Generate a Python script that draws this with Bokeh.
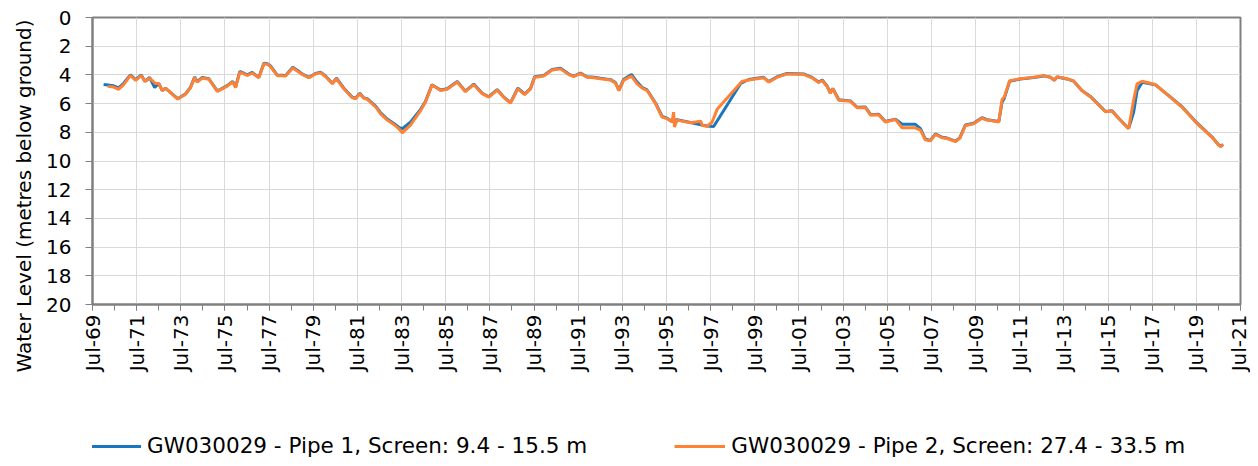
import math
import pandas as pd
from bokeh.plotting import figure
from bokeh.layouts import column
from bokeh.models import (Range1d, FixedTicker, DatetimeTickFormatter, Legend,
                          LegendItem, Title, ColumnDataSource)
from bokeh.embed import file_html
from bokeh.resources import INLINE

# ---------------- data ----------------
pipe2_dates = [
    "1970-03-10", "1970-06-15", "1970-09-05", "1970-11-25", "1971-03-20", "1971-06-15",
    "1971-09-15", "1971-11-15", "1972-02-01", "1972-05-08", "1972-07-01", "1972-08-28",
    "1972-10-20", "1973-05-10", "1973-09-16", "1973-12-10", "1974-02-14", "1974-03-28",
    "1974-06-20", "1974-10-08", "1975-02-25", "1975-08-07", "1975-11-06", "1975-12-24",
    "1976-03-03", "1976-07-05", "1976-09-24", "1977-01-12", "1977-04-06", "1977-06-01",
    "1977-07-24", "1977-11-10", "1978-03-30", "1978-07-27", "1978-11-02", "1978-12-28",
    "1979-04-20", "1979-08-08", "1979-10-30", "1980-01-20", "1980-05-12", "1980-07-20",
    "1980-11-18", "1981-04-05", "1981-05-30", "1981-08-10", "1981-10-15", "1981-12-10",
    "1982-04-28", "1982-07-16", "1982-11-06", "1983-02-24", "1983-05-15", "1983-07-12",
    "1983-11-25", "1984-05-08", "1984-07-30", "1984-11-16", "1985-04-05", "1985-07-24",
    "1986-01-08", "1986-05-22", "1986-10-08", "1987-02-24", "1987-06-14", "1987-10-30",
    "1988-02-18", "1988-06-06", "1988-10-05", "1989-01-26", "1989-05-05", "1989-07-12",
    "1989-12-08", "1990-04-26", "1990-09-12", "1991-01-26", "1991-04-20", "1991-08-08",
    "1991-11-24", "1992-03-14", "1992-07-05", "1992-12-16", "1993-03-10", "1993-05-05",
    "1993-07-24", "1993-11-28", "1994-03-03", "1994-05-26", "1994-08-15", "1995-01-01",
    "1995-04-20", "1995-07-12", "1995-10-01", "1995-10-27", "1995-11-10", "1995-12-24",
    "1996-07-30", "1997-01-20", "1997-02-10", "1997-05-05", "1997-07-24", "1997-10-16",
    "1998-12-01", "1999-03-22", "1999-11-24", "2000-02-18", "2000-07-05", "2000-12-16",
    "2001-09-16", "2002-02-03", "2002-05-22", "2002-07-20", "2002-10-08", "2002-12-02",
    "2003-01-12", "2003-04-20", "2003-10-30", "2004-02-18", "2004-07-05", "2004-09-28",
    "2005-02-10", "2005-05-30", "2005-11-14", "2006-03-03", "2006-10-08", "2007-01-01",
    "2007-03-22", "2007-06-14", "2007-09-05", "2007-12-24", "2008-03-18", "2008-08-04",
    "2008-10-12", "2009-01-15", "2009-05-30", "2009-10-15", "2010-01-08", "2010-04-26",
    "2010-07-20", "2010-09-12", "2010-10-20", "2011-01-15", "2011-07-12", "2012-02-18",
    "2012-07-30", "2012-11-20", "2013-01-26", "2013-03-10", "2013-08-22", "2013-12-08",
    "2014-04-26", "2014-09-12", "2015-05-20", "2015-09-05", "2015-12-24", "2016-06-06",
    "2016-08-28", "2016-10-24", "2017-01-15", "2017-08-20", "2018-04-26", "2018-11-06",
    "2019-07-20", "2020-03-18", "2020-07-05", "2020-08-08", "2020-09-16",
]
pipe2_level = [
    4.80, 4.85, 5.00, 4.70, 4.04, 4.39,
    4.04, 4.46, 4.23, 4.60, 4.60, 5.10,
    4.92, 5.68, 5.35, 4.88, 4.18, 4.50,
    4.22, 4.30, 5.15, 4.78, 4.50, 4.88,
    3.81, 4.04, 3.87, 4.20, 3.23, 3.25,
    3.42, 4.04, 4.08, 3.52, 3.80, 3.97,
    4.20, 3.93, 3.85, 4.11, 4.62, 4.27,
    4.97, 5.58, 5.66, 5.32, 5.63, 5.70,
    6.22, 6.70, 7.15, 7.45, 7.74, 8.04,
    7.50, 6.50, 5.90, 4.71, 5.08, 5.00,
    4.50, 5.17, 4.68, 5.31, 5.55, 5.06,
    5.58, 5.96, 4.97, 5.37, 4.97, 4.16,
    4.08, 3.66, 3.58, 3.98, 4.11, 3.91,
    4.16, 4.20, 4.27, 4.36, 4.57, 5.09,
    4.36, 4.08, 4.62, 4.93, 5.09, 6.00,
    6.94, 7.05, 7.27, 6.60, 7.62, 7.15,
    7.34, 7.23, 7.52, 7.58, 7.30, 6.40,
    4.46, 4.35, 4.20, 4.50, 4.16, 3.93,
    3.96, 4.20, 4.53, 4.39, 4.80, 5.28,
    4.97, 5.76, 5.84, 6.29, 6.27, 6.80,
    6.77, 7.28, 7.11, 7.68, 7.69, 7.85,
    8.52, 8.60, 8.14, 8.38, 8.43, 8.64,
    8.42, 7.52, 7.40, 7.02, 7.15, 7.22,
    7.28, 5.72, 5.54, 4.41, 4.27, 4.17,
    4.05, 4.16, 4.37, 4.13, 4.27, 4.42,
    5.10, 5.52, 6.57, 6.52, 7.04, 7.75,
    5.77, 4.62, 4.44, 4.67, 5.55, 6.25,
    7.42, 8.36, 8.89, 9.00, 8.85,
]

pipe1_dates = [
    "1970-01-01", "1970-06-15", "1970-09-05", "1970-11-25", "1971-03-20", "1971-06-15",
    "1971-09-15", "1971-11-15", "1972-02-01", "1972-04-25", "1972-07-01", "1972-08-28",
    "1972-10-20", "1973-05-10", "1973-09-16", "1973-12-10", "1974-02-14", "1974-03-28",
    "1974-06-20", "1974-10-08", "1975-02-25", "1975-08-07", "1975-11-06", "1975-12-24",
    "1976-03-03", "1976-07-05", "1976-09-24", "1977-01-12", "1977-04-06", "1977-06-01",
    "1977-07-24", "1977-11-10", "1978-03-30", "1978-07-27", "1978-11-02", "1978-12-28",
    "1979-04-20", "1979-08-08", "1979-10-30", "1980-01-20", "1980-05-12", "1980-07-20",
    "1980-11-18", "1981-04-05", "1981-05-30", "1981-08-10", "1981-10-15", "1981-12-10",
    "1982-04-28", "1982-07-16", "1982-11-06", "1983-02-24", "1983-05-15", "1983-07-12",
    "1983-11-25", "1984-05-08", "1984-07-30", "1984-11-16", "1985-04-05", "1985-07-24",
    "1986-01-08", "1986-05-22", "1986-10-08", "1987-02-24", "1987-06-14", "1987-10-30",
    "1988-02-18", "1988-06-06", "1988-10-05", "1989-01-26", "1989-05-05", "1989-07-12",
    "1989-12-08", "1990-04-26", "1990-09-12", "1991-01-26", "1991-04-20", "1991-08-08",
    "1991-11-24", "1992-03-14", "1992-07-05", "1992-12-16", "1993-03-10", "1993-05-05",
    "1993-07-24", "1993-11-28", "1994-03-03", "1994-05-26", "1994-08-15", "1995-01-01",
    "1995-04-20", "1995-07-12", "1995-10-01", "1995-12-24", "1996-07-30", "1997-02-10",
    "1997-05-05", "1997-08-20", "1998-11-10", "1999-03-22", "1999-11-24", "2000-02-18",
    "2000-07-05", "2000-12-16", "2001-09-16", "2002-02-03", "2002-05-22", "2002-07-20",
    "2002-10-08", "2002-12-02", "2003-01-12", "2003-04-20", "2003-10-30", "2004-02-18",
    "2004-07-05", "2004-09-28", "2005-02-10", "2005-05-30", "2005-11-14", "2006-03-03",
    "2006-10-08", "2007-01-01", "2007-03-22", "2007-06-14", "2007-09-05", "2007-12-24",
    "2008-03-18", "2008-08-04", "2008-10-12", "2009-01-15", "2009-05-30", "2009-10-15",
    "2010-01-08", "2010-04-26", "2010-07-20", "2010-09-12", "2010-10-20", "2011-01-15",
    "2011-07-12", "2012-02-18", "2012-07-30", "2012-11-20", "2013-01-26", "2013-03-10",
    "2013-08-22", "2013-12-08", "2014-04-26", "2014-09-12", "2015-05-20", "2015-09-05",
    "2015-12-24", "2016-06-06", "2016-08-28", "2016-10-24", "2017-01-15", "2017-08-20",
    "2018-04-26", "2018-11-06", "2019-07-20", "2020-03-18", "2020-07-05", "2020-08-08",
    "2020-09-16",
]
pipe1_level = [
    4.67, 4.76, 4.90, 4.60, 4.00, 4.33,
    4.00, 4.45, 4.18, 4.88, 4.60, 5.10,
    4.92, 5.66, 5.33, 4.85, 4.15, 4.47,
    4.18, 4.27, 5.12, 4.75, 4.45, 4.85,
    3.76, 4.00, 3.83, 4.17, 3.18, 3.22,
    3.38, 4.00, 4.05, 3.47, 3.75, 3.93,
    4.17, 3.90, 3.82, 4.08, 4.58, 4.23,
    4.93, 5.55, 5.63, 5.28, 5.60, 5.66,
    6.18, 6.62, 7.08, 7.38, 7.65, 7.75,
    7.30, 6.42, 5.85, 4.68, 5.05, 4.97,
    4.46, 5.13, 4.64, 5.28, 5.52, 5.02,
    5.55, 5.93, 4.93, 5.33, 4.93, 4.12,
    4.04, 3.62, 3.54, 3.94, 4.08, 3.88,
    4.13, 4.17, 4.24, 4.33, 4.54, 5.06,
    4.30, 3.97, 4.50, 4.88, 5.05, 5.96,
    6.90, 7.02, 7.24, 7.12, 7.32, 7.50,
    7.56, 7.60, 4.60, 4.32, 4.17, 4.47,
    4.13, 3.90, 3.93, 4.17, 4.50, 4.36,
    4.77, 5.25, 4.94, 5.73, 5.81, 6.26,
    6.24, 6.77, 6.74, 7.25, 7.08, 7.44,
    7.44, 7.75, 8.47, 8.57, 8.11, 8.35,
    8.40, 8.61, 8.39, 7.49, 7.37, 6.98,
    7.12, 7.19, 7.25, 5.90, 5.62, 4.45,
    4.29, 4.19, 4.07, 4.17, 4.37, 4.14,
    4.28, 4.43, 5.08, 5.50, 6.55, 6.50,
    7.02, 7.73, 6.60, 5.10, 4.52, 4.68,
    5.53, 6.22, 7.38, 8.33, 8.88, 8.98,
    8.84,
]

y_ticks = [0, 2, 4, 6, 8, 10, 12, 14, 16, 18, 20]
major_tick_years = list(range(1969, 2022, 2))
minor_tick_years = list(range(1969, 2022))
label_pipe1 = "GW030029 - Pipe 1, Screen: 9.4 - 15.5 m"
label_pipe2 = "GW030029 - Pipe 2, Screen: 27.4 - 33.5 m"
y_title = "Water Level (metres below ground)"

# ---------------- styling ----------------
FONT = "DejaVu Sans"
GRID = "#d9d9d9"
AXIS = "#808080"
BLUE = "#1878BE"
ORANGE = "#FF8133"
W = 1250


def jul_ms(y):
    return pd.Timestamp(f"{y}-07-01").value // 10**6


src1 = ColumnDataSource(dict(x=pd.to_datetime(pipe1_dates), y=pipe1_level))
src2 = ColumnDataSource(dict(x=pd.to_datetime(pipe2_dates), y=pipe2_level))

# ---------------- main chart ----------------
p = figure(width=W, height=400, output_backend="svg", toolbar_location=None,
           x_axis_type="datetime",
           x_range=Range1d(pd.Timestamp("1969-07-01"), pd.Timestamp("2021-07-01")),
           y_range=Range1d(20, 0),
           min_border_left=92, min_border_right=10, min_border_top=17,
           min_border_bottom=96)

r1 = p.line("x", "y", source=src1, line_color=BLUE, line_width=3)
r2 = p.line("x", "y", source=src2, line_color=ORANGE, line_width=3)

p.outline_line_color = AXIS
p.outline_line_width = 2
p.background_fill_color = "white"
p.border_fill_color = "white"

xa = p.xaxis[0]
xa.ticker = FixedTicker(ticks=[jul_ms(y) for y in major_tick_years],
                        minor_ticks=[jul_ms(y) for y in minor_tick_years])
fmt = "%b-%y"
xa.formatter = DatetimeTickFormatter(years=fmt, months=fmt, days=fmt, hours=fmt,
                                     hourmin=fmt, minutes=fmt, minsec=fmt,
                                     seconds=fmt, milliseconds=fmt, microseconds=fmt)
xa.major_label_orientation = math.pi / 2
xa.major_label_text_font = FONT
xa.major_label_text_font_size = "20px"
xa.major_label_text_color = "black"
xa.major_label_standoff = 4
xa.major_tick_out = 6
xa.major_tick_in = 0
xa.minor_tick_out = 6
xa.minor_tick_in = 0
xa.axis_line_color = AXIS
xa.axis_line_width = 2
xa.major_tick_line_color = AXIS
xa.minor_tick_line_color = AXIS

ya = p.yaxis[0]
ya.ticker = FixedTicker(ticks=y_ticks)
ya.major_label_text_font = FONT
ya.major_label_text_font_size = "20px"
ya.major_label_text_color = "black"
ya.major_label_standoff = 14
ya.major_tick_out = 7
ya.major_tick_in = 0
ya.minor_tick_line_color = None
ya.axis_line_color = AXIS
ya.axis_line_width = 2
ya.major_tick_line_color = AXIS

# y-axis title in the left side panel, shifted down like the reference
p.add_layout(Title(text=y_title, align="left", offset=-68, standoff=16,
                   text_font=FONT, text_font_size="20px", text_font_style="normal",
                   text_color="black"), "left")

p.xgrid.grid_line_color = GRID
p.xgrid.grid_line_width = 1
p.ygrid.grid_line_color = GRID
p.ygrid.grid_line_width = 1

# ---------------- legend strip below the chart ----------------
lg = figure(width=W, height=66, output_backend="svg", toolbar_location=None,
            x_range=Range1d(0, 1), y_range=Range1d(0, 1),
            x_axis_location=None, y_axis_location=None,
            min_border_left=0, min_border_right=0, min_border_top=0,
            min_border_bottom=0)
lg.outline_line_color = None
lg.xgrid.visible = False
lg.ygrid.visible = False
# legend proxies: the same series, which fall outside this strip's ranges
k1 = lg.line("x", "y", source=src1, line_color=BLUE, line_width=3)
k2 = lg.line("x", "y", source=src2, line_color=ORANGE, line_width=3)
legend = Legend(items=[LegendItem(label=label_pipe1, renderers=[k1]),
                       LegendItem(label=label_pipe2, renderers=[k2])],
                orientation="horizontal", location=(-2, 8),
                glyph_width=51, glyph_height=24, label_height=24, label_standoff=6,
                spacing=87, padding=0, margin=0,
                label_text_font=FONT, label_text_font_size="21.5px",
                label_text_color="black", border_line_color=None,
                background_fill_alpha=0)
lg.add_layout(legend, "center")

page = column(p, lg, spacing=0)
open("out.html", "w").write(file_html(page, INLINE))
